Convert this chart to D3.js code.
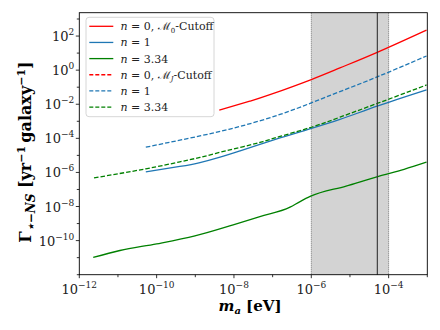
<!DOCTYPE html>
<html>
<head>
<meta charset="utf-8">
<script src="https://cdn.jsdelivr.net/npm/d3@7"></script>
<style>
  body { margin: 0; background: #fff; }
  text { font-family: "DejaVu Serif", "Liberation Serif", serif; }
</style>
</head>
<body>
<script>
// log10(m_a) , log10(rate)
var redSolid = [[-8.38, -2.34], [-7.59, -1.82], [-7.07, -1.44], [-6.0, -0.55], [-5.26, 0.13], [-4.28, 1.06], [-3.02, 2.35]];
var blueDashed = [[-10.28, -4.52], [-8.88, -3.86], [-7.84, -3.3], [-6.81, -2.6], [-6.0, -1.92], [-5.26, -1.26], [-4.28, -0.38], [-3.02, 0.83]];
var greenDashed = [[-11.62, -6.32], [-10.28, -5.79], [-9.4, -5.38], [-8.88, -5.12], [-8.36, -4.82], [-7.84, -4.53], [-7.33, -4.24], [-6.81, -3.89], [-6.0, -3.35], [-5.26, -2.76], [-4.28, -1.94], [-3.02, -0.87]];
var blueSolid = [[-10.28, -5.97], [-9.4, -5.65], [-8.88, -5.42], [-8.36, -5.1], [-7.84, -4.73], [-7.33, -4.36], [-6.81, -3.98], [-6.29, -3.62], [-6.0, -3.42], [-5.26, -2.89], [-4.28, -2.1], [-3.02, -1.16]];
var greenSolid = [[-11.64, -10.99], [-10.95, -10.58], [-10.0, -10.19], [-9.01, -9.72], [-8.02, -9.07], [-7.33, -8.59], [-6.55, -8.04], [-6.29, -7.71], [-6.03, -7.41], [-5.1, -6.8], [-4.28, -6.24], [-3.6, -5.82], [-3.02, -5.4]];

var bandRange = [1e-6, 1e-4];
var vLine = 5.1e-5;

var xTicks = [-12, -10, -8, -6, -4];
var yTicks = [-10, -8, -6, -4, -2, 0, 2];

var legendItems = [
  {n: "0", cut: "0", color: "red", dash: null},
  {n: "1", cut: null, color: "#1f77b4", dash: null},
  {n: "3.34", cut: null, color: "green", dash: null},
  {n: "0", cut: "J", color: "red", dash: "4,2"},
  {n: "1", cut: null, color: "#1f77b4", dash: "4,2"},
  {n: "3.34", cut: null, color: "green", dash: "4,2"}
];

var width = 440, height = 330;
var pLeft = 79.3, pRight = 427.3, pTop = 12.7, pBottom = 274.7;

var svg = d3.select("body").append("svg")
    .attr("width", width)
    .attr("height", height);

var x = d3.scaleLog().domain([1e-12, 1e-3]).range([pLeft, pRight]);
var y = d3.scaleLog().domain([1e-12, Math.pow(10, 3.37)]).range([pBottom, pTop]);

// shaded band
svg.append("rect")
    .attr("x", x(bandRange[0]))
    .attr("y", pTop)
    .attr("width", x(bandRange[1]) - x(bandRange[0]))
    .attr("height", pBottom - pTop)
    .attr("fill", "#d3d3d3");
bandRange.forEach(function(v) {
  svg.append("line")
      .attr("x1", x(v)).attr("x2", x(v))
      .attr("y1", pTop).attr("y2", pBottom)
      .attr("stroke", "#555")
      .attr("stroke-width", 0.8)
      .attr("stroke-dasharray", "1,1");
});

function makeLine(curve) {
  return d3.line()
      .x(function(d) { return x(Math.pow(10, d[0])); })
      .y(function(d) { return y(Math.pow(10, d[1])); })
      .curve(curve);
}

var series = [
  {data: redSolid, color: "red", dash: null, curve: d3.curveNatural},
  {data: blueSolid, color: "#1f77b4", dash: null, curve: d3.curveNatural},
  {data: greenSolid, color: "green", dash: null, curve: d3.curveMonotoneX},
  {data: blueDashed, color: "#1f77b4", dash: "4.5,2", curve: d3.curveNatural},
  {data: greenDashed, color: "green", dash: "4.5,2", curve: d3.curveNatural}
];

series.forEach(function(s) {
  svg.append("path")
      .attr("d", makeLine(s.curve)(s.data))
      .attr("fill", "none")
      .attr("stroke", s.color)
      .attr("stroke-width", 1.3)
      .attr("stroke-dasharray", s.dash);
});

svg.append("line")
    .attr("x1", x(vLine)).attr("x2", x(vLine))
    .attr("y1", pTop).attr("y2", pBottom)
    .attr("stroke", "#333")
    .attr("stroke-width", 1.1);

// frame
svg.append("rect")
    .attr("x", pLeft).attr("y", pTop)
    .attr("width", pRight - pLeft).attr("height", pBottom - pTop)
    .attr("fill", "none")
    .attr("stroke", "#000")
    .attr("stroke-width", 0.9);

// x ticks
for (var e = -12; e <= -3; e++) {
  var major = xTicks.indexOf(e) >= 0;
  svg.append("line")
      .attr("x1", x(Math.pow(10, e))).attr("x2", x(Math.pow(10, e)))
      .attr("y1", pBottom).attr("y2", pBottom + (major ? 3.5 : 2.5))
      .attr("stroke", "#000").attr("stroke-width", 0.8);
}
xTicks.forEach(function(e) {
  var t = svg.append("text")
      .attr("x", x(Math.pow(10, e)))
      .attr("y", pBottom + 19)
      .attr("text-anchor", "middle")
      .attr("font-size", 13)
      .attr("fill", "#222");
  t.append("tspan").text("10");
  t.append("tspan").attr("dy", -6).attr("font-size", 9).text("−" + Math.abs(e));
});

// y ticks
for (var k = -12; k <= 3; k++) {
  var maj = yTicks.indexOf(k) >= 0;
  svg.append("line")
      .attr("x1", pLeft).attr("x2", pLeft - (maj ? 3.5 : 2.5))
      .attr("y1", y(Math.pow(10, k))).attr("y2", y(Math.pow(10, k)))
      .attr("stroke", "#000").attr("stroke-width", 0.8);
}
yTicks.forEach(function(e) {
  var t = svg.append("text")
      .attr("x", pLeft - 5)
      .attr("y", y(Math.pow(10, e)) + 5)
      .attr("text-anchor", "end")
      .attr("font-size", 13)
      .attr("fill", "#222");
  t.append("tspan").text("10");
  t.append("tspan").attr("dy", -6).attr("font-size", 9).text(e < 0 ? "−" + Math.abs(e) : String(e));
});

// axis labels
var xl = svg.append("text")
    .attr("x", 250)
    .attr("y", 311)
    .attr("text-anchor", "middle")
    .attr("font-size", 15)
    .attr("font-weight", "bold");
xl.append("tspan").attr("font-style", "italic").text("m");
xl.append("tspan").attr("dy", 3).attr("font-size", 10).attr("font-style", "italic").text("a");
xl.append("tspan").attr("dy", -3).text(" [eV]");

var yl = svg.append("text")
    .attr("transform", "translate(31,152) rotate(-90)")
    .attr("text-anchor", "middle")
    .attr("font-size", 16)
    .attr("font-weight", "bold");
yl.append("tspan").text("Γ");
yl.append("tspan").attr("dy", 4).attr("font-size", 12).attr("font-style", "italic").text("⋆−NS");
yl.append("tspan").attr("dy", -4).text(" [yr");
yl.append("tspan").attr("dy", -6).attr("font-size", 11).text("−1");
yl.append("tspan").attr("dy", 6).text("\u2009galaxy");
yl.append("tspan").attr("dy", -6).attr("font-size", 11).text("−1");
yl.append("tspan").attr("dy", 6).text("]");

// legend
var lg = svg.append("g");
lg.append("rect")
    .attr("x", 86).attr("y", 17.3)
    .attr("width", 128).attr("height", 99.4)
    .attr("rx", 3)
    .attr("fill", "#fff").attr("fill-opacity", 0.85)
    .attr("stroke", "#ccc").attr("stroke-width", 0.8);

legendItems.forEach(function(d, i) {
  var yy = 26.3 + i * 16.15;
  lg.append("line")
      .attr("x1", 89.3).attr("x2", 113.3)
      .attr("y1", yy).attr("y2", yy)
      .attr("stroke", d.color)
      .attr("stroke-width", 1.3)
      .attr("stroke-dasharray", d.dash);
  var t = lg.append("text")
      .attr("x", 120.5).attr("y", yy + 4)
      .attr("font-size", 11)
      .attr("fill", "#222");
  t.append("tspan").attr("font-style", "italic").text("n");
  t.append("tspan").text(" = " + d.n + (d.cut ? ", " : ""));
  if (d.cut) {
    t.append("tspan").text("ℳ");
    t.append("tspan").attr("dy", 2.5).attr("font-size", 7).attr("font-style", d.cut === "J" ? "italic" : null).text(d.cut);
    t.append("tspan").attr("dy", -2.5).text("-Cutoff");
  }
});
</script>
</body>
</html>
